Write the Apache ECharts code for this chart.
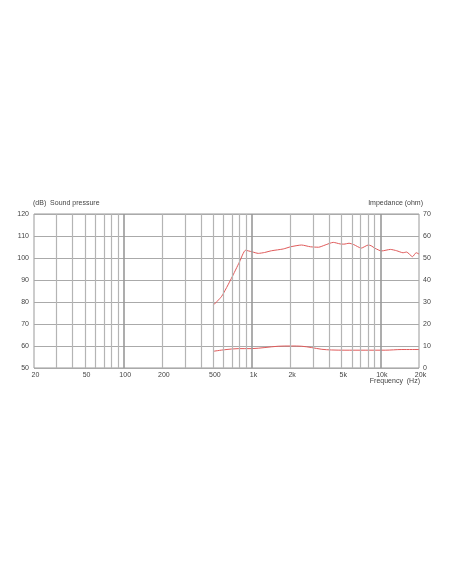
<!DOCTYPE html>
<html>
<head>
<meta charset="utf-8">
<script src="https://cdn.jsdelivr.net/npm/echarts@6/dist/echarts.min.js"></script>
<style>
  html, body { margin: 0; padding: 0; background: #fff; }
  #chart { width: 452px; height: 584px; }
</style>
</head>
<body>
<div id="chart"></div>
<script>
// frequency response (dB, left axis)
const splFreq = [500, 580, 690, 800, 890, 1000, 1120, 1250, 1420, 1750, 2000, 2430, 2850, 3300, 3710, 4300, 4850, 5200, 5700, 6200, 7100, 8050, 8450, 9100, 10200, 12000, 13400, 15000, 16000, 17800, 19000, 20000];
const splDb = [78.6, 82.6, 90.7, 98.3, 103.5, 102.8, 102.1, 102.5, 103.3, 104.1, 105.1, 105.9, 105.1, 104.9, 105.9, 107.1, 106.4, 106.3, 106.7, 106.1, 104.5, 105.9, 105.6, 104.4, 103.2, 103.9, 103.3, 102.4, 102.7, 100.6, 102.4, 101.8];

// impedance (ohm, right axis)
const impFreq = [500, 610, 780, 990, 1260, 1600, 2030, 2430, 2900, 3500, 4150, 5300, 7600, 10900, 14700, 20000];
const impOhm = [7.6, 8.3, 8.8, 8.8, 9.3, 9.9, 10.0, 9.9, 9.3, 8.5, 8.2, 8.1, 8.1, 8.1, 8.4, 8.4];

// log grid + labels
const gridFreqs = [30, 40, 50, 60, 70, 80, 90, 100, 200, 300, 400, 500, 600, 700, 800, 900,
  1000, 2000, 3000, 4000, 5000, 6000, 7000, 8000, 9000, 10000];
const decadeFreqs = [100, 1000, 10000];
const freqLabels = [20, 50, 100, 200, 500, 1000, 2000, 5000, 10000, 20000];

const textColor = '#444';
const font = 'Arial, "Liberation Sans", sans-serif';

const chart = echarts.init(document.getElementById('chart'));

const zip = (xs, ys) => xs.map((x, i) => [x, ys[i]]);

chart.setOption({
  backgroundColor: '#fff',
  animation: false,
  textStyle: { fontFamily: font },
  grid: {
    left: 34, right: 33, top: 214, bottom: 216,
    show: true, borderColor: '#999', borderWidth: 1,
  },
  xAxis: {
    type: 'log',
    logBase: 10,
    min: 20,
    max: 20000,
    axisLine: { show: false },
    axisTick: { show: false },
    splitLine: { show: false },
    axisLabel: {
      customValues: freqLabels,
      color: textColor,
      fontSize: 7,
      margin: 4,
      padding: [0, 0, 0, 3],
      formatter: (v) => {
        const f = Math.round(v);
        return f >= 1000 ? f / 1000 + 'k' : String(f);
      },
    },
  },
  yAxis: [
    {
      type: 'value',
      min: 50,
      max: 120,
      interval: 10,
      name: '(dB)  Sound pressure',
      nameLocation: 'end',
      nameGap: 7,
      nameTextStyle: { color: textColor, fontSize: 7, align: 'left', padding: [0, 0, 0, -1] },
      axisLine: { show: false },
      axisTick: { show: false },
      axisLabel: { color: textColor, fontSize: 7, margin: 5 },
      splitLine: { lineStyle: { color: '#aaa', width: 1.2 } },
    },
    {
      type: 'value',
      min: 0,
      max: 70,
      interval: 10,
      position: 'right',
      name: 'Impedance (ohm)',
      nameLocation: 'end',
      nameGap: 7,
      nameTextStyle: { color: textColor, fontSize: 7, align: 'right', padding: [0, -4, 0, 0] },
      axisLine: { show: false },
      axisTick: { show: false },
      axisLabel: { color: textColor, fontSize: 7, margin: 4 },
      splitLine: { show: false },
    },
  ],
  graphic: [
    {
      type: 'text',
      right: 32,
      top: 378,
      style: { text: 'Frequency  (Hz)', fill: textColor, font: '7px ' + font },
    },
  ],
  series: [
    {
      // vertical log grid
      type: 'line',
      data: [[20, 50]],
      symbol: 'none',
      silent: true,
      z: 1,
      markLine: {
        silent: true,
        symbol: 'none',
        label: { show: false },
        animation: false,
        data: gridFreqs.map((f) => ({
          xAxis: f,
          lineStyle: decadeFreqs.includes(f)
            ? { color: '#999', width: 1.6, type: 'solid' }
            : { color: '#b4b4b4', width: 1.2, type: 'solid' },
        })),
      },
    },
    {
      name: 'Sound pressure',
      type: 'line',
      yAxisIndex: 0,
      data: zip(splFreq, splDb),
      smooth: 0.2,
      showSymbol: false,
      z: 3,
      lineStyle: { color: '#e05a5a', width: 1 },
    },
    {
      name: 'Impedance',
      type: 'line',
      yAxisIndex: 1,
      data: zip(impFreq, impOhm),
      smooth: 0.3,
      showSymbol: false,
      z: 3,
      lineStyle: { color: '#e05a5a', width: 1 },
    },
  ],
});
</script>
</body>
</html>
